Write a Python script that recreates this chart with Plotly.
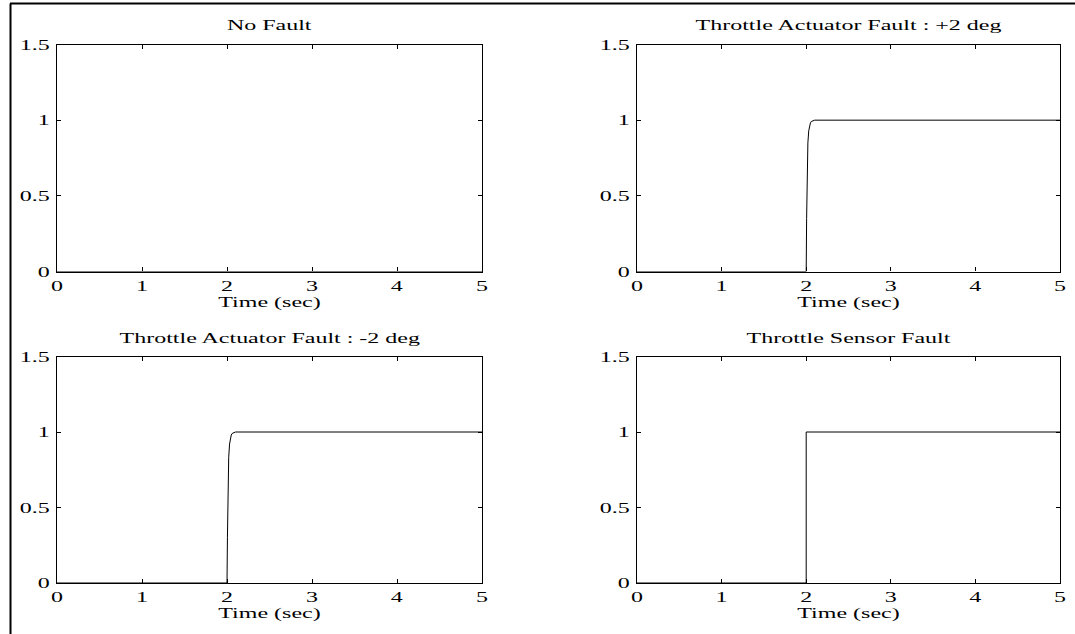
import plotly.graph_objects as go

# Fault indicator responses (time in seconds, indicator value)
t_none = [0.0, 5.0]
y_none = [0.0, 0.0]

t_act_plus = [0.0, 2.0, 2.005, 2.01, 2.015, 2.02, 2.03, 2.04, 2.05, 2.06, 2.08, 2.1, 5.0]
y_act_plus = [0.0, 0.0, 0.35, 0.6, 0.75, 0.85, 0.93, 0.965, 0.982, 0.991, 0.997, 1.0, 1.0]

t_act_minus = [0.0, 2.0, 2.005, 2.01, 2.015, 2.02, 2.03, 2.04, 2.05, 2.06, 2.08, 2.1, 5.0]
y_act_minus = [0.0, 0.0, 0.3, 0.55, 0.72, 0.83, 0.92, 0.96, 0.98, 0.99, 0.997, 1.0, 1.0]

t_sensor = [0.0, 2.0, 2.0, 5.0]
y_sensor = [0.0, 0.0, 1.0, 1.0]

titles = ["No Fault", "Throttle Actuator Fault : +2 deg",
          "Throttle Actuator Fault : -2 deg", "Throttle Sensor Fault"]
x_ticks = [0, 1, 2, 3, 4, 5]
y_ticks = [0, 0.5, 1, 1.5]
y_tick_text = ["0", "0.5", "1", "1.5"]

series = [(t_none, y_none), (t_act_plus, y_act_plus),
          (t_act_minus, y_act_minus), (t_sensor, y_sensor)]

W, H = 1075, 634
FONT = dict(family="Liberation Serif, Times New Roman, serif", size=15, color="black")

# panel boxes in pixels: (left, right, top, bottom)
boxes = [(57, 482, 44.5, 271.5), (637, 1060, 44.5, 271.5),
         (57, 482, 356.5, 583), (637, 1060, 356.5, 583)]

fig = go.Figure()
layout = dict(
    width=W, height=H, margin=dict(l=0, r=0, t=0, b=0, autoexpand=False),
    paper_bgcolor="white", plot_bgcolor="white",
    showlegend=False, font=FONT,
)
annotations = []
for i, ((tx, ty), (l, r, t, b)) in enumerate(zip(series, boxes)):
    n = "" if i == 0 else str(i + 1)
    fig.add_trace(go.Scatter(x=tx, y=ty, mode="lines",
                             line=dict(color="black", width=1),
                             xaxis="x" + n, yaxis="y" + n, hoverinfo="skip"))
    axis_common = dict(showline=True, linecolor="black", linewidth=1.3,
                       mirror="ticks", ticks="inside", ticklen=4, tickwidth=1,
                       tickcolor="black", showgrid=False, zeroline=False,
                       tickfont=FONT, automargin=False)
    layout["xaxis" + n] = dict(axis_common, domain=[l / W, r / W], range=[0, 5],
                               tickvals=x_ticks, anchor="y" + n,
                               title=dict(text="Time (sec)", font=FONT, standoff=3))
    layout["yaxis" + n] = dict(axis_common, domain=[1 - b / H, 1 - t / H], range=[0, 1.5],
                               tickvals=y_ticks, ticktext=y_tick_text, anchor="x" + n,
                               ticklabelstandoff=3)
    annotations.append(dict(text=titles[i], x=(l + r) / 2 / W, y=1 - (t - 19) / H,
                            xref="paper", yref="paper", showarrow=False,
                            font=FONT, xanchor="center", yanchor="middle"))

layout["annotations"] = annotations
# outer frame lines on the top and left edges
layout["shapes"] = [
    dict(type="line", xref="paper", yref="paper", x0=10 / W, x1=1, y0=1 - 3.5 / H, y1=1 - 3.5 / H,
         line=dict(color="black", width=2)),
    dict(type="line", xref="paper", yref="paper", x0=10.5 / W, x1=10.5 / W, y0=0, y1=1 - 3.5 / H,
         line=dict(color="black", width=2)),
]
fig.update_layout(**layout)

# widen the lettering horizontally about each label's anchor point
stretch_js = """
var gd = document.getElementById('{plot_id}');
gd.querySelectorAll('svg text').forEach(function (t) {
  if (!t.textContent) { return; }
  var b = t.getBBox();
  var anchor = t.getAttribute('text-anchor') || 'start';
  var cx = anchor === 'middle' ? b.x + b.width / 2 : (anchor === 'end' ? b.x + b.width : b.x);
  var cy = b.y + b.height / 2;
  var tr = t.getAttribute('transform') || '';
  t.setAttribute('transform', tr + ' translate(' + cx + ',' + cy + ') scale(1.6,1) translate(' + (-cx) + ',' + (-cy) + ')');
});
"""
fig.write_html("out.html", post_script=stretch_js)
